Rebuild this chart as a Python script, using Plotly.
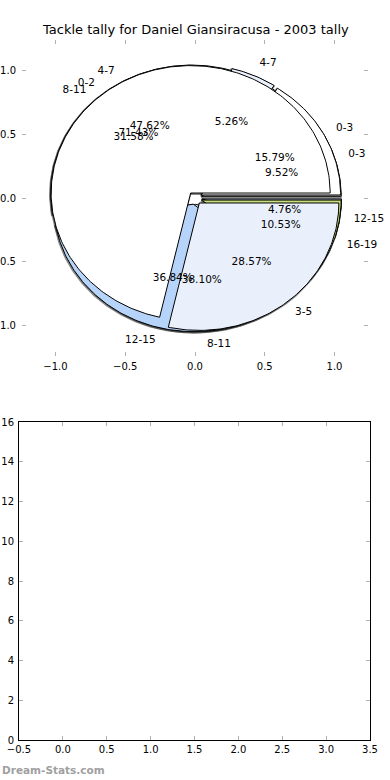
import numpy as np
import plotly.graph_objects as go

# ---------------- data ----------------
title_text = "Tackle tally for Daniel Giansiracusa - 2003 tally"

pie1_labels = ["0-3", "4-7", "8-11", "12-15"]
pie1_values = [2, 10, 8, 1]

pie2_labels = ["0-3", "4-7", "8-11", "12-15", "16-19"]
pie2_values = [3, 1, 6, 7, 2]

pie3_labels = ["0-2", "3-5"]
pie3_values = [5, 2]

pie_xticks = [-1.0, -0.5, 0.0, 0.5, 1.0]
pie_yticks = [-1.0, -0.5, 0.0, 0.5, 1.0]
bar_xticks = [-0.5, 0.0, 0.5, 1.0, 1.5, 2.0, 2.5, 3.0, 3.5]
bar_yticks = [0, 2, 4, 6, 8, 10, 12, 14, 16]

# ---------------- style ----------------
palette = ["#ffffff", "#e9f0fc", "#ffffff", "#b6d4fa", "#c9df7c"]
EXPLODE = 0.05
LABEL_R = 1.1
PCT_R = 0.6
FONT = "DejaVu Sans"
TXT = 10.5

pies = [
    (pie1_labels, pie1_values),
    (pie2_labels, pie2_values),
    (pie3_labels, pie3_values),
]


def wedge_xy(t1, t2, cx, cy, r=1.0):
    n = max(int(abs(t2 - t1) / 1.0) + 2, 3)
    th = np.radians(np.linspace(t1, t2, n))
    xs = np.concatenate([[cx], cx + r * np.cos(th), [cx]])
    ys = np.concatenate([[cy], cy + r * np.sin(th), [cy]])
    return xs, ys


wedges = []
texts = []
for labels, values in pies:
    total = float(sum(values))
    t1 = 0.0
    for i, (lab, v) in enumerate(zip(labels, values)):
        t2 = t1 + 360.0 * v / total
        mid = np.radians((t1 + t2) / 2.0)
        cx, cy = EXPLODE * np.cos(mid), EXPLODE * np.sin(mid)
        wedges.append((t1, t2, cx, cy, palette[i % len(palette)]))
        lx = cx + LABEL_R * np.cos(mid)
        ly = cy + LABEL_R * np.sin(mid)
        px = cx + PCT_R * np.cos(mid)
        py = cy + PCT_R * np.sin(mid)
        texts.append((lab, lx, ly, "%.2f%%" % (100.0 * v / total), px, py))
        t1 = t2

fig = go.Figure()

# soft shadows: dark fringe around every wedge, beneath all wedges
for t1, t2, cx, cy, col in wedges:
    xs, ys = wedge_xy(t1, t2, cx - 0.004, cy - 0.006)
    fig.add_trace(go.Scatter(x=xs, y=ys, mode="lines",
                             line=dict(color="rgba(40,40,40,0.55)", width=2.2),
                             hoverinfo="skip", showlegend=False,
                             xaxis="x", yaxis="y"))

# wedges
for t1, t2, cx, cy, col in wedges:
    xs, ys = wedge_xy(t1, t2, cx, cy)
    fig.add_trace(go.Scatter(x=xs, y=ys, mode="lines", fill="toself",
                             fillcolor=col, line=dict(color="black", width=1),
                             hoverinfo="skip", showlegend=False,
                             xaxis="x", yaxis="y"))

# labels and percentages
for lab, lx, ly, pct, px, py in texts:
    fig.add_trace(go.Scatter(x=[lx], y=[ly], mode="text", text=[lab],
                             textposition="middle right" if lx > 0 else "middle left",
                             textfont=dict(family=FONT, size=TXT, color="black"),
                             marker=dict(size=0), hoverinfo="skip",
                             cliponaxis=False,
                             showlegend=False, xaxis="x", yaxis="y"))
    fig.add_trace(go.Scatter(x=[px], y=[py], mode="text", text=[pct],
                             textposition="middle center",
                             textfont=dict(family=FONT, size=TXT, color="black"),
                             marker=dict(size=0), hoverinfo="skip",
                             cliponaxis=False,
                             showlegend=False, xaxis="x", yaxis="y"))

# empty bottom axes
fig.add_trace(go.Bar(x=[], y=[], xaxis="x2", yaxis="y2", showlegend=False))

W, H = 390, 780
tickfont = dict(family=FONT, size=10, color="black")
common = dict(showgrid=False, zeroline=False, ticks="inside", ticklen=4,
              tickcolor="#b0b0b0", tickwidth=1, tickfont=tickfont,
              automargin=False)

fig.update_layout(
    width=W, height=H,
    margin=dict(l=0, r=0, t=0, b=0),
    paper_bgcolor="white", plot_bgcolor="white",
    showlegend=False,
    xaxis=dict(domain=[22 / W, 368 / W], range=[-1.24, 1.24],
               tickvals=pie_xticks, tickformat=".1f", showline=False,
               mirror="ticks", anchor="y", ticklabelstandoff=3, **common),
    yaxis=dict(domain=[1 - 356 / H, 1 - 40 / H], range=[-1.24, 1.24],
               tickvals=pie_yticks, tickformat=".1f", showline=False,
               mirror="ticks", anchor="x", ticklabelstandoff=5, **common),
    xaxis2=dict(domain=[19 / W, 370 / W], range=[-0.5, 3.5],
                tickvals=bar_xticks, tickformat=".1f", showline=True,
                linecolor="black", linewidth=1, mirror="ticks",
                anchor="y2", **common),
    yaxis2=dict(domain=[1 - 740 / H, 1 - 422 / H], range=[0, 16],
                tickvals=bar_yticks, showline=True, linecolor="black",
                linewidth=1, mirror="ticks", anchor="x2",
                ticklabelstandoff=2, **common),
    annotations=[
        dict(text=title_text, xref="paper", yref="paper", x=0.5,
             y=1 - 30 / H, xanchor="center", yanchor="middle",
             showarrow=False, font=dict(family=FONT, size=13, color="black")),
        dict(text="<b>Dream-Stats.com</b>", xref="paper", yref="paper",
             x=0, y=1 - 770 / H, xanchor="left", yanchor="middle",
             showarrow=False, font=dict(family=FONT, size=10.5, color="#a0a0a0")),
    ],
)

fig.write_html("out.html")
